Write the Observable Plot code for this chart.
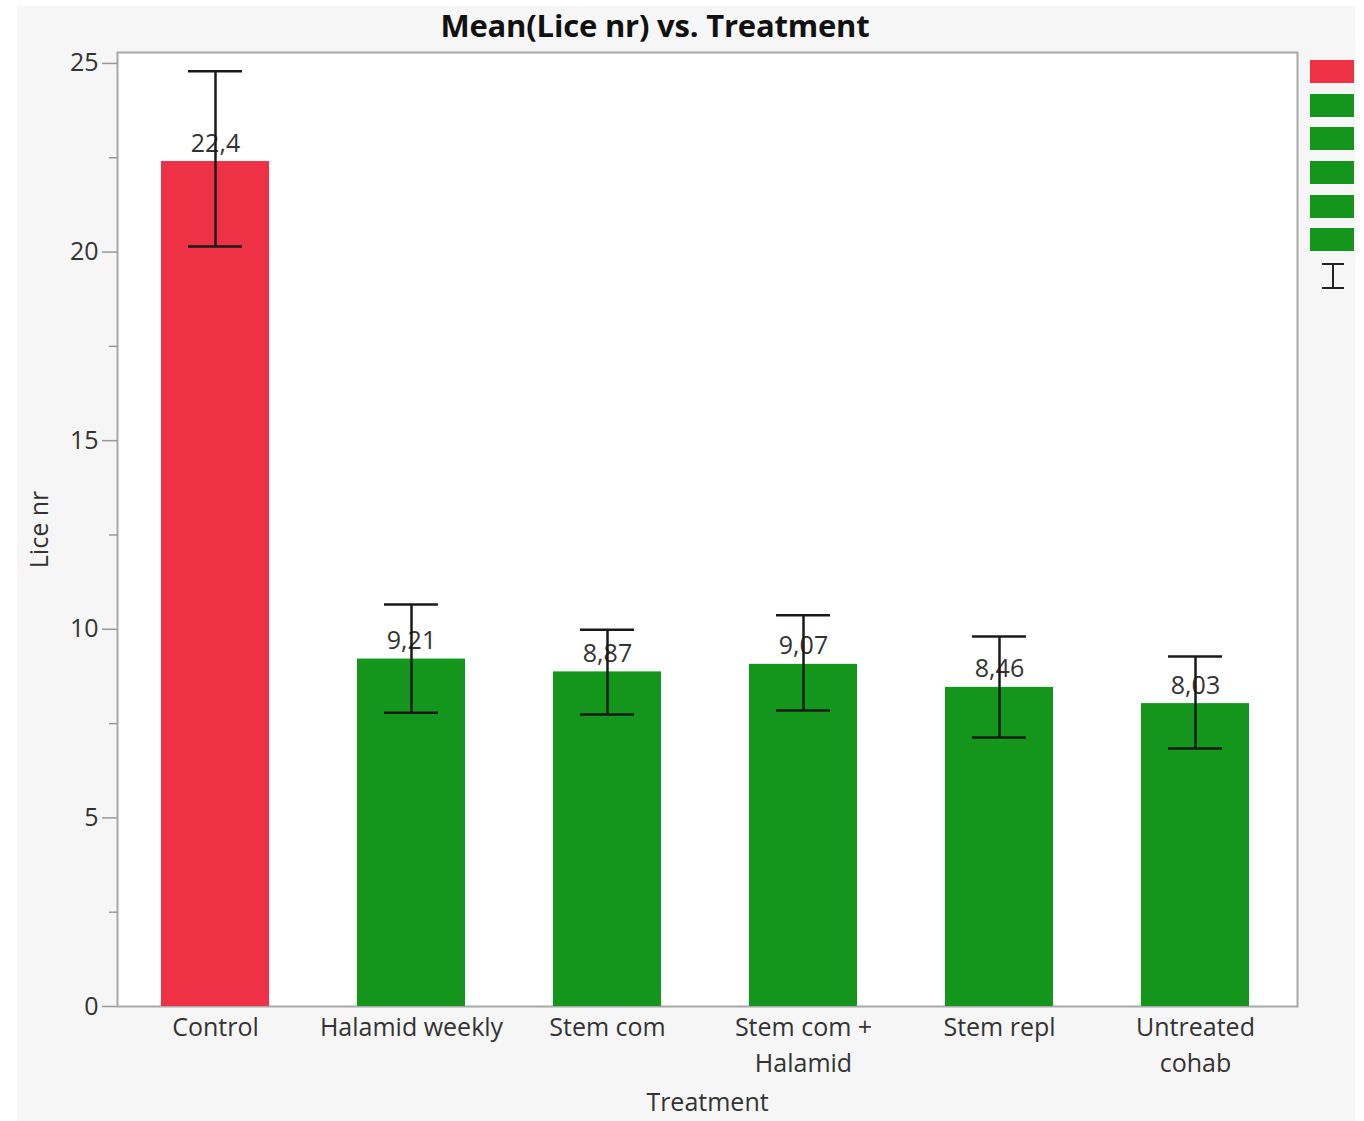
<!DOCTYPE html>
<html>
<head>
<meta charset="utf-8">
<script src="https://cdn.jsdelivr.net/npm/d3@7"></script>
<script src="https://cdn.jsdelivr.net/npm/@observablehq/plot@0.6"></script>
<style>
  body { margin: 0; background: #ffffff; font-family: "Open Sans", sans-serif; }
  #wrap { position: relative; width: 1364px; height: 1121px; overflow: hidden; }
  #panel { position: absolute; left: 17px; top: 6px; width: 1338px; height: 1115px; background: #f6f6f6; }
  #title { position: absolute; left: 0; top: 4px; width: 1310px; text-align: center; font-weight: bold;
           font-size: 31px; line-height: 42px; color: #111; letter-spacing: -0.2px; }
  #chart { position: absolute; left: 0; top: 0; }
  #legend { position: absolute; left: 1310px; top: 60px; }
  .sw { width: 44px; height: 23px; margin-bottom: 10.7px; }
</style>
</head>
<body>
<div id="wrap">
  <div id="panel"></div>
  <div id="chart"></div>
  <div id="title">Mean(Lice nr) vs. Treatment</div>
  <div id="legend"></div>
</div>
<script>
const categories = ["Control", "Halamid weekly", "Stem com", "Stem com +\nHalamid", "Stem repl", "Untreated\ncohab"];
const means = [22.4, 9.21, 8.87, 9.07, 8.46, 8.03];
const errLow = [20.15, 7.79, 7.74, 7.85, 7.13, 6.84];
const errHigh = [24.79, 10.66, 9.99, 10.37, 9.81, 9.28];
const barColors = ["#ee3145", "#14961c", "#14961c", "#14961c", "#14961c", "#14961c"];
const yTicks = [0, 5, 10, 15, 20, 25];
const yMinorTicks = [2.5, 7.5, 12.5, 17.5, 22.5];

const data = categories.map((c, i) => ({cat: c, mean: means[i], lo: errLow[i], hi: errHigh[i]}));
const fmt = v => String(v).replace(".", ",");

const chart = Plot.plot({
  width: 1364,
  height: 1121,
  marginLeft: 117,
  marginRight: 67,
  marginTop: 52,
  marginBottom: 115,
  style: {fontFamily: "Open Sans, sans-serif", fontSize: "25px", color: "#333", background: "transparent"},
  x: {domain: categories, paddingInner: 0.45, paddingOuter: 0.225, align: 0.475, label: "Treatment"},
  y: {domain: [0, 25.29], label: "Lice nr"},
  color: {domain: categories, range: barColors},
  marks: [
    Plot.frame({fill: "white", stroke: "#a8a8a8", strokeWidth: 2}),
    Plot.barY(data, {x: "cat", y: "mean", fill: "cat"}),
    Plot.text(data, {x: "cat", y: "mean", text: d => fmt(d.mean), lineAnchor: "bottom", dy: -10, fontSize: 25, fill: "#333"}),
    Plot.ruleX(data, {x: "cat", y1: "lo", y2: "hi", stroke: "#1a1a1a", strokeWidth: 2.5}),
    Plot.tickY(data, {x: "cat", y: "lo", insetLeft: 27, insetRight: 27, stroke: "#1a1a1a", strokeWidth: 2.5}),
    Plot.tickY(data, {x: "cat", y: "hi", insetLeft: 27, insetRight: 27, stroke: "#1a1a1a", strokeWidth: 2.5}),
    Plot.axisY(yTicks, {tickSize: 15, tickPadding: 4, fontSize: 25, stroke: "#999", strokeWidth: 1.5,
      label: "Lice nr", labelAnchor: "center", labelArrow: "none", labelOffset: 87}),
    Plot.axisY(yMinorTicks, {tickSize: 8, text: null, label: null, stroke: "#999", strokeWidth: 1.5}),
    Plot.axisX({tickSize: 0, tickPadding: 4, lineHeight: 1.45, fontSize: 25,
      label: "Treatment", labelAnchor: "center", labelArrow: "none", labelOffset: 104})
  ]
});
document.getElementById("chart").appendChild(chart);

const legend = document.getElementById("legend");
barColors.forEach(c => {
  const d = document.createElement("div");
  d.className = "sw";
  d.style.background = c;
  legend.appendChild(d);
});
const ns = "http://www.w3.org/2000/svg";
const ic = document.createElementNS(ns, "svg");
ic.setAttribute("width", 44); ic.setAttribute("height", 30);
ic.innerHTML = '<line x1="12" x2="34" y1="2" y2="2" stroke="#222" stroke-width="2"/>' +
  '<line x1="23" x2="23" y1="2" y2="26" stroke="#222" stroke-width="2"/>' +
  '<line x1="12" x2="34" y1="26" y2="26" stroke="#222" stroke-width="2"/>';
legend.appendChild(ic);
</script>
</body>
</html>
